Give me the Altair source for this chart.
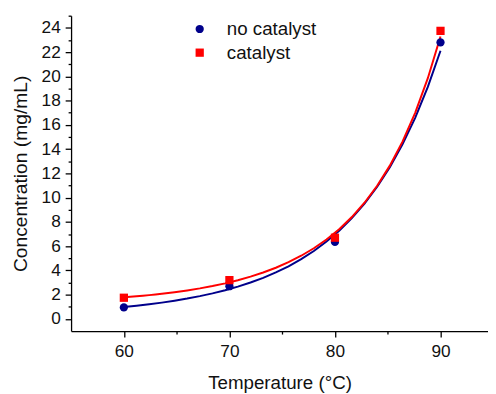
import altair as alt
import pandas as pd

temps = [60, 70, 80, 90]
no_catalyst = [0.95, 2.7, 6.35, 22.8]
catalyst = [1.75, 3.2, 6.7, 23.75]
series = ["no catalyst", "catalyst"]
colors = ["#00008B", "#FF0000"]
shapes = ["circle", "square"]
y_ticks = list(range(0, 26))
x_ticks = [60, 65, 70, 75, 80, 85, 90]

df = pd.DataFrame({
    "T": temps * 2,
    "C": no_catalyst + catalyst,
    "series": [series[0]] * 4 + [series[1]] * 4,
})

FONT = "Liberation Sans"

x_scale = alt.Scale(domain=[55, 94.5], nice=False, zero=False)
y_scale = alt.Scale(domain=[-1, 25], nice=False, zero=False)

x = alt.X("T:Q", scale=x_scale,
          axis=alt.Axis(title="Temperature (°C)", values=x_ticks,
                        labelExpr="datum.value % 10 === 0 ? datum.label : ''",
                        tickSize={"condition": {"test": "datum.value % 10 === 0", "value": 6}, "value": 3},
                        grid=False, labelPadding=6, titlePadding=14,
                        labelFontSize=17.5, titleFontSize=19))
y = alt.Y("C:Q", scale=y_scale,
          axis=alt.Axis(title="Concentration (mg/mL)", values=y_ticks,
                        labelExpr="datum.value % 2 === 0 ? datum.label : ''",
                        tickSize={"condition": {"test": "datum.value % 2 === 0", "value": 6}, "value": 3},
                        grid=False, labelPadding=5, titlePadding=11,
                        labelFontSize=17.5, titleFontSize=19.5))

base = alt.Chart(df)


def fit_line(name, color):
    return base.transform_filter(
        alt.datum.series == name
    ).transform_calculate(
        lnC="log(datum.C)"
    ).transform_regression(
        "T", "lnC", method="poly", order=2, extent=[60, 90]
    ).transform_calculate(
        C="exp(datum.lnC)"
    ).mark_line(strokeWidth=2, color=color).encode(x=x, y=y)


line_nc = fit_line(series[0], colors[0])
line_c = fit_line(series[1], colors[1])

points = base.mark_point(filled=True, size=70, opacity=1).encode(
    x=x, y=y,
    color=alt.Color("series:N", scale=alt.Scale(domain=series, range=colors),
                    legend=alt.Legend(title=None, orient="none", legendX=121, legendY=4,
                                      labelFontSize=19, labelFont=FONT, symbolSize=70,
                                      rowPadding=4, labelOffset=18, labelColor="#111",
                                      padding=0, symbolStrokeWidth=0)),
    shape=alt.Shape("series:N", scale=alt.Scale(domain=series, range=shapes)),
)

chart = alt.layer(line_nc, line_c, points).properties(
    width=423, height=320,
    autosize=alt.AutoSizeParams(type="none"),
    padding={"left": 64, "top": 5, "right": 0, "bottom": 60},
).configure_view(stroke=None).configure_axis(
    domainColor="#000", domainWidth=1.3, tickColor="#000", tickWidth=1.3,
    labelFont=FONT, labelColor="#111",
    titleFont=FONT, titleFontWeight="normal", titleColor="#111",
)

chart.save("out.html", embed_options={"renderer": "svg", "actions": False})
